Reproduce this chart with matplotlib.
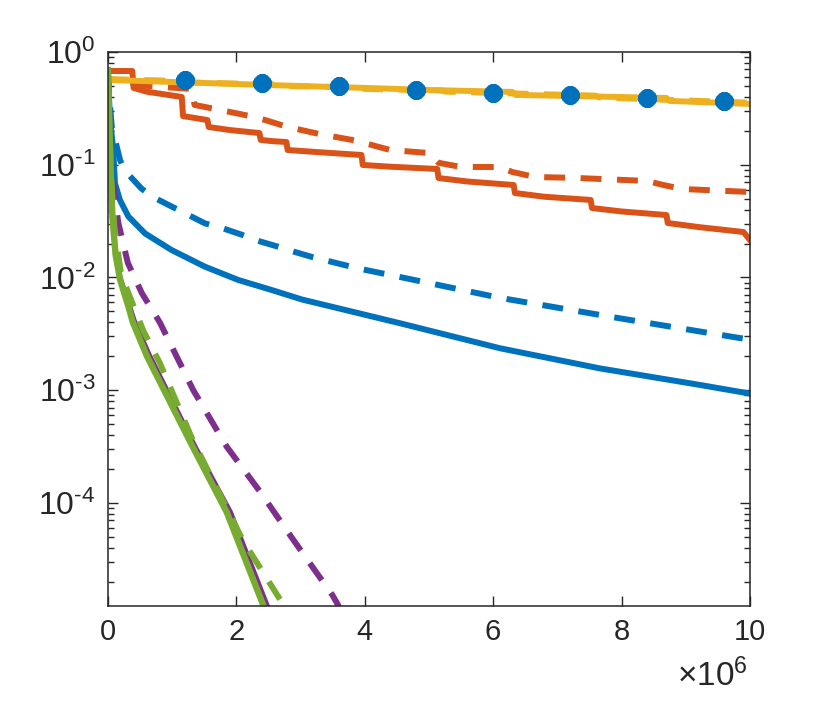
import numpy as np
import matplotlib
matplotlib.use("Agg")
import matplotlib.pyplot as plt
from matplotlib.ticker import FuncFormatter, LogLocator, FixedLocator

plt.rcParams['font.family'] = ['Liberation Sans', 'DejaVu Sans']
plt.rcParams['mathtext.fontset'] = 'custom'
plt.rcParams['mathtext.rm'] = 'Liberation Sans'
plt.rcParams['mathtext.it'] = 'Liberation Sans'
plt.rcParams['mathtext.sf'] = 'Liberation Sans'

# data: x in units of 1e6, y as log10
blue_x = [0, 0.03, 0.083, 0.11, 0.187, 0.32, 0.58, 0.99, 1.51, 2.03, 2.55, 3.02,
          4.55, 6.11, 7.66, 9.22, 10.0]
blue_lg = [-0.17, -0.574, -0.869, -1.165, -1.313, -1.46, -1.61, -1.756, -1.904, -2.022, -2.111, -2.195,
           -2.406, -2.628, -2.806, -2.953, -3.03]

bluedash_x = [0, 0.03, 0.06, 0.19, 0.26, 0.52, 0.68, 0.99, 1.2, 1.51, 1.77, 2.08, 2.29, 2.65, 2.89,
              3.19, 3.9, 4.5, 6.1, 7.95, 9.84, 10.0]
bluedash_lg = [-0.17, -0.45, -0.66, -0.96, -1.05, -1.21, -1.28, -1.37, -1.43, -1.52, -1.56, -1.62, -1.667,
               -1.727, -1.77, -1.82, -1.92, -1.99, -2.18, -2.36, -2.537, -2.55]

orange_x = [0, 0.38, 0.40, 0.6, 1.15, 1.17, 1.35, 1.55, 1.57, 1.9, 2.36, 2.38, 2.55, 2.78, 2.80, 3.3, 3.95, 3.97,
            4.4, 5.13, 5.15, 5.6, 6.32, 6.34, 6.8, 7.52, 7.54, 8.0, 8.70, 8.72, 9.2, 9.90, 10.0]
orange_y = [0.678, 0.678, 0.480, 0.445, 0.399, 0.270, 0.260, 0.249, 0.216, 0.203, 0.191, 0.166, 0.162, 0.159,
            0.135, 0.129, 0.122, 0.0995, 0.096,
            0.0917, 0.0762, 0.071, 0.0661, 0.0561, 0.052, 0.0487, 0.0413, 0.0385, 0.0358, 0.0304, 0.0280,
            0.0253, 0.0215]

orangedash_x = [0, 0.38, 0.40, 1.30, 1.35, 1.75, 2.2, 2.45, 2.8, 3.3, 3.8, 4.1, 4.4, 5.0, 5.15,
                5.5, 6.1, 6.3, 6.65, 7.3, 8.4, 8.65, 8.95, 10.0]
orangedash_y = [0.678, 0.678, 0.510, 0.470, 0.339, 0.306, 0.271, 0.249, 0.216, 0.187, 0.166, 0.150, 0.135,
                0.127, 0.104, 0.0955, 0.0955, 0.0862, 0.0779, 0.0763, 0.0718, 0.0661, 0.0609, 0.0573]

yellow_x = [0, 1.0, 2.0, 3.0, 4.0, 5.0, 6.3, 6.35, 8.7, 8.75, 10.0]
yellow_y = [0.565, 0.542, 0.520, 0.499, 0.480, 0.460, 0.442, 0.416, 0.391, 0.368, 0.346]

yellowdash_x = [0, 1.3, 1.35, 2.6, 2.65, 3.9, 4.0, 5.2, 5.25, 7.6, 7.65, 10.0]
yellowdash_y = [0.575, 0.55, 0.535, 0.515, 0.50, 0.485, 0.47, 0.455, 0.445, 0.41, 0.395, 0.355]

marker_x = [1.2, 2.4, 3.6, 4.8, 6.0, 7.2, 8.4, 9.6]
marker_y = [0.565, 0.528, 0.499, 0.460, 0.430, 0.416, 0.393, 0.370]

purple_x = [0, 0.02, 0.04, 0.07, 0.12, 0.20, 0.33, 0.42, 0.65, 1.37, 1.92, 2.52]
purple_lg = [-0.16, -0.6, -1.0, -1.45, -1.78, -2.0, -2.22, -2.38, -2.68, -3.50, -4.08, -4.95]

purpledash_x = [0, 0.02, 0.04, 0.08, 0.16, 0.31, 0.53, 0.81, 1.33, 1.85, 2.37, 2.88, 3.50, 3.6]
purpledash_lg = [-0.16, -0.55, -0.9, -1.16, -1.51, -1.87, -2.14, -2.40, -3.0, -3.50, -3.90, -4.32, -4.82, -4.92]

green_x = [0, 0.02, 0.04, 0.07, 0.12, 0.19, 0.31, 0.39, 0.61, 1.32, 1.85, 2.45]
green_lg = [-0.16, -0.6, -1.0, -1.46, -1.80, -2.02, -2.24, -2.40, -2.70, -3.50, -4.08, -4.95]

greendash_x = [0, 0.02, 0.05, 0.10, 0.20, 0.30, 0.55, 0.81, 1.32, 2.10, 2.73, 2.8]
greendash_lg = [-0.16, -0.6, -1.1, -1.55, -1.95, -2.11, -2.47, -2.76, -3.44, -4.33, -4.90, -4.98]

xtick_vals = [0, 2, 4, 6, 8, 10]
ytick_exps = [-4, -3, -2, -1, 0]

c_blue = '#0072BD'
c_orange = '#D95319'
c_yellow = '#EDB120'
c_purple = '#7E2F8E'
c_green = '#77AC30'

def X(v):
    return np.array(v) * 1e6

def L(v):
    return 10.0 ** np.array(v)

fig = plt.figure(figsize=(8.3, 7.11), dpi=100)
ax = fig.add_axes([0.130, 0.1477, 0.7735, 0.7792])

lw = 4.3
dash = (3.5, 2.6)
ax.plot(X(blue_x), L(blue_lg), color=c_blue, lw=lw)
ax.plot(X(bluedash_x), L(bluedash_lg), color=c_blue, lw=lw, dashes=dash)
ax.plot(X(orange_x), orange_y, color=c_orange, lw=lw)
ax.plot(X(orangedash_x), orangedash_y, color=c_orange, lw=lw, dashes=dash)
ax.plot(X(yellow_x), yellow_y, color=c_yellow, lw=lw)
ax.plot(X(yellowdash_x), yellowdash_y, color=c_yellow, lw=lw, dashes=dash)
ax.plot(X(marker_x), marker_y, linestyle='none', marker=(8, 2, 0), ms=13, mew=4.5,
        color=c_blue)
ax.plot(X(purple_x), L(purple_lg), color=c_purple, lw=2.6)
ax.plot(X(purpledash_x), L(purpledash_lg), color=c_purple, lw=lw, dashes=dash)
ax.plot(X(green_x), L(green_lg), color=c_green, lw=4.6)
ax.plot(X(greendash_x), L(greendash_lg), color=c_green, lw=lw, dashes=dash)

ax.set_yscale('log')
ax.set_xlim(0, 1e7)
ax.set_ylim(1.22e-5, 1)
ax.set_xticks(X(xtick_vals))
ax.xaxis.set_major_formatter(FuncFormatter(lambda v, p: '%d' % round(v / 1e6)))
ax.yaxis.set_major_locator(FixedLocator(L(ytick_exps)))
ax.yaxis.set_major_formatter(FuncFormatter(
    lambda v, p: r'$\mathdefault{10^{\text{%d}}}$' % round(np.log10(v))))
ax.yaxis.set_minor_locator(LogLocator(base=10, subs=np.arange(2, 10), numticks=20))

tc = '#262626'
for s in ax.spines.values():
    s.set_color(tc)
    s.set_linewidth(1.1)
ax.tick_params(which='both', direction='in', top=True, right=True, colors=tc, width=1.0)
ax.tick_params(axis='x', labelsize=21)
ax.tick_params(axis='y', labelsize=23)
ax.tick_params(which='major', length=7, pad=9)
ax.tick_params(which='minor', length=4)

fig.text(0.858, 0.025, r'$\times\mathdefault{10^{6}}$', fontsize=24, color=tc,
         ha='center', va='bottom')

fig.savefig('out.png', dpi=100)
